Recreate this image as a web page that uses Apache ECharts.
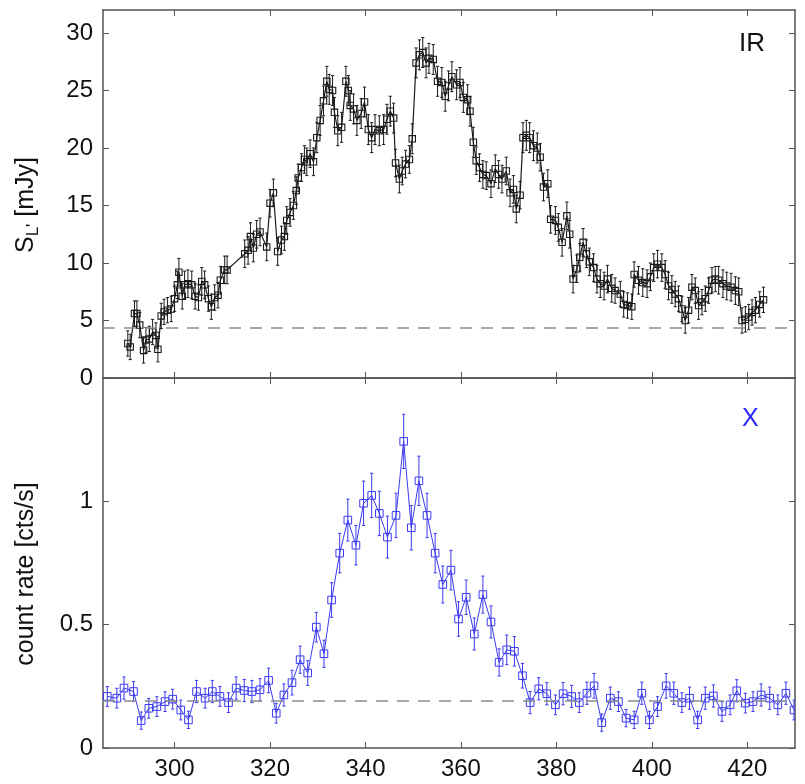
<!DOCTYPE html>
<html>
<head>
<meta charset="utf-8">
<script src="https://cdn.jsdelivr.net/npm/echarts@6/dist/echarts.min.js"></script>
<style>
html,body{margin:0;padding:0;background:#fff;}
#chart{width:805px;height:784px;}
</style>
</head>
<body>
<div id="chart"></div>
<script>
// ---------- DATA ----------
// IR light curve (top panel): time, flux [mJy], error
const irX = [290.2,290.7,291.6,292.1,292.7,293.5,294.0,294.7,295.4,296.1,296.5,297.2,297.8,298.5,299.3,300.0,300.6,300.9,301.6,302.1,302.8,303.6,304.3,305.0,305.7,306.3,307.1,307.7,308.4,309.1,309.6,310.5,311.0,314.7,315.4,315.9,316.5,317.2,317.9,319.3,320.0,320.7,321.6,322.4,323.0,323.5,324.2,324.9,325.5,325.9,326.6,327.2,327.7,328.4,329.1,329.8,330.5,331.2,331.9,332.4,333.1,333.5,334.2,335.0,335.9,336.4,336.8,337.5,338.2,339.1,339.8,340.6,341.3,342.0,342.9,343.8,344.5,345.2,345.9,346.3,347.1,347.7,348.4,349.2,349.8,350.6,351.3,352.0,352.7,353.3,354.2,355.1,356.0,356.7,357.4,358.1,359.1,359.8,360.5,361.4,361.9,362.6,363.2,363.9,364.6,365.3,366.3,367.2,367.9,368.6,369.5,370.3,371.0,371.6,372.4,373.0,373.7,374.4,375.2,376.0,376.6,377.3,378.2,378.8,379.8,380.4,381.2,382.2,382.8,383.5,384.3,384.9,385.6,386.3,386.9,387.8,388.5,389.2,390.0,390.7,391.6,392.3,393.4,394.1,394.9,395.8,396.3,397.2,398.1,399.0,399.7,400.4,401.2,402.1,402.8,403.5,404.2,404.9,405.6,406.3,407.0,407.7,408.4,409.1,409.8,410.5,411.2,411.9,412.6,413.3,414.0,414.9,415.7,416.6,417.5,418.2,418.9,419.6,420.3,421.0,421.7,422.6,423.4];
const irY = [3.0,2.7,5.6,5.6,4.6,2.4,3.3,3.4,4.0,3.7,2.5,5.4,5.75,5.9,6.0,6.9,8.1,9.2,7.1,8.1,8.2,8.1,7.1,7.0,8.4,8.1,6.9,6.2,7.0,7.2,8.5,9.4,9.4,10.8,11.1,12.3,11.3,12.5,12.7,11.4,15.2,16.1,11.0,12.0,12.3,13.7,14.4,15.0,16.3,17.4,18.3,19.0,18.8,19.5,18.8,20.9,22.4,24.1,25.8,25.1,25.0,23.1,21.5,21.8,25.8,25.0,23.7,23.4,22.4,23.0,24.0,21.6,20.9,21.6,21.5,21.6,22.5,23.2,22.6,18.7,17.3,18.0,18.6,19.0,20.8,27.4,28.1,28.3,27.4,27.8,27.7,25.8,25.7,24.5,25.4,26.2,25.5,25.7,24.4,24.2,23.2,20.5,18.9,18.3,17.7,17.6,16.9,18.2,17.7,17.3,18.0,16.1,16.4,14.7,15.9,20.9,21.1,20.9,20.2,20.0,19.2,16.6,16.9,13.8,13.7,13.1,11.8,14.1,12.5,8.6,9.5,10.5,11.8,10.8,10.1,9.6,8.6,8.2,8.0,8.6,7.8,7.6,7.3,6.4,6.3,6.2,9.0,8.5,8.3,8.2,8.8,9.6,9.9,9.6,9.0,8.0,7.7,7.3,6.9,6.0,5.0,5.9,7.9,7.6,6.3,6.6,6.9,7.6,8.5,8.6,8.5,8.2,8.0,7.9,7.6,7.5,5.0,5.1,5.3,5.7,5.9,6.4,6.8];
const irErr = [1.1,1.1,1.1,1.1,1.1,1.1,1.1,1.1,1.1,1.1,1.1,1.1,1.1,1.1,1.1,1.1,1.2,1.2,1.1,1.2,1.2,1.2,1.1,1.1,1.2,1.2,1.1,1.1,1.1,1.1,1.2,1.2,1.2,1.2,1.2,1.2,1.2,1.2,1.2,1.2,1.2,1.2,1.2,1.2,1.2,1.2,1.2,1.2,1.2,1.2,1.2,1.2,1.2,1.2,1.2,1.3,1.3,1.3,1.3,1.3,1.3,1.3,1.3,1.3,1.3,1.3,1.3,1.3,1.3,1.3,1.3,1.3,1.3,1.3,1.3,1.3,1.3,1.3,1.3,1.2,1.2,1.2,1.2,1.2,1.3,1.3,1.3,1.3,1.3,1.3,1.3,1.3,1.3,1.3,1.3,1.3,1.3,1.3,1.3,1.3,1.3,1.3,1.2,1.2,1.2,1.2,1.2,1.2,1.2,1.2,1.2,1.2,1.2,1.2,1.2,1.3,1.3,1.3,1.3,1.3,1.2,1.2,1.2,1.2,1.2,1.2,1.2,1.2,1.2,1.2,1.2,1.2,1.2,1.2,1.2,1.2,1.2,1.2,1.2,1.2,1.2,1.1,1.1,1.1,1.1,1.1,1.1,1.2,1.2,1.2,1.2,1.2,1.2,1.2,1.2,1.2,1.2,1.1,1.1,1.1,1.1,1.1,1.1,1.1,1.2,1.1,1.1,1.1,1.1,1.1,1.2,1.2,1.2,1.2,1.2,1.2,1.1,1.1,1.1,1.1,1.1,1.1,1.1,1.1];
// X-ray light curve (bottom panel): time, count rate [cts/s], error
const xrX = [285.9,287.9,289.4,291.4,293.0,294.6,296.3,298.0,299.6,301.3,302.9,304.6,306.4,307.9,309.5,311.3,312.9,314.6,316.2,317.9,319.7,321.3,322.9,324.6,326.3,327.9,329.7,331.3,332.9,334.6,336.3,338.0,339.6,341.3,342.9,344.6,346.4,348.0,349.6,351.2,352.9,354.6,356.2,357.9,359.5,361.1,362.8,364.6,366.3,368.0,369.6,371.2,372.9,374.5,376.3,378.0,379.8,381.4,383.2,384.8,386.4,387.9,389.5,391.3,393.0,394.6,396.3,397.9,399.5,401.2,403.0,404.6,406.3,407.9,409.6,411.2,412.9,414.7,416.4,417.8,419.6,421.2,422.9,424.7,426.4,428.1,429.8];
const xrY = [0.209,0.202,0.243,0.229,0.111,0.161,0.168,0.188,0.198,0.154,0.114,0.229,0.202,0.229,0.209,0.184,0.243,0.233,0.229,0.236,0.274,0.141,0.215,0.265,0.358,0.304,0.49,0.382,0.60,0.79,0.924,0.822,0.992,1.024,0.951,0.855,0.943,1.243,0.893,1.083,0.943,0.79,0.663,0.721,0.523,0.611,0.462,0.622,0.511,0.347,0.398,0.392,0.293,0.184,0.240,0.220,0.175,0.220,0.209,0.184,0.222,0.252,0.103,0.202,0.188,0.121,0.114,0.222,0.114,0.168,0.252,0.222,0.184,0.202,0.114,0.202,0.211,0.148,0.175,0.232,0.182,0.188,0.215,0.202,0.175,0.222,0.154];
const xrErr = [0.04,0.04,0.045,0.04,0.035,0.04,0.04,0.04,0.04,0.04,0.035,0.045,0.04,0.045,0.04,0.04,0.045,0.045,0.045,0.045,0.05,0.04,0.045,0.05,0.055,0.05,0.06,0.055,0.07,0.08,0.085,0.08,0.09,0.09,0.09,0.085,0.09,0.11,0.09,0.1,0.09,0.08,0.075,0.08,0.07,0.07,0.065,0.075,0.065,0.055,0.06,0.06,0.05,0.045,0.045,0.045,0.04,0.045,0.045,0.04,0.045,0.05,0.035,0.045,0.04,0.035,0.035,0.045,0.035,0.04,0.05,0.045,0.04,0.045,0.035,0.045,0.045,0.04,0.04,0.045,0.04,0.04,0.045,0.045,0.04,0.045,0.04];
// Quiescent levels (dashed lines)
const irBaseline = 4.35;
const xrBaseline = 0.19;
// Axis ranges and tick labels
const timeRange = [285, 430];
const timeTicks = [300, 320, 340, 360, 380, 400, 420];
const irRange = [0, 32];
const irTicks = [0, 5, 10, 15, 20, 25, 30];
const xrRange = [0, 1.5];
const xrTicks = [0, 0.5, 1];
const irLabel = 'IR';
const xrLabel = 'X';

// ---------- CHART ----------
const FONT = '"Liberation Sans", Arial, Helvetica, sans-serif';
const FRAME = '#555';
const IR_COLOR = '#1a1a1a';
const XR_COLOR = '#3a3af0';

const chart = echarts.init(document.getElementById('chart'), null, {renderer: 'canvas'});

function zip3(a, b, c) { return a.map((v, i) => [v, b[i], c[i]]); }
const irData = zip3(irX, irY, irErr);
const xrData = zip3(xrX, xrY, xrErr);

function errRenderer(color, half, lw) {
  return function (params, api) {
    const x = api.value(0), y = api.value(1), e = api.value(2);
    const p = api.coord([x, y]);
    const t = api.coord([x, y + e]);
    const b = api.coord([x, y - e]);
    const cap = 1.6;
    const st = {stroke: color, lineWidth: 1, fill: null};
    return {
      type: 'group',
      children: [
        {type: 'line', shape: {x1: p[0], y1: t[1], x2: p[0], y2: b[1]}, style: st},
        {type: 'line', shape: {x1: p[0] - cap, y1: t[1], x2: p[0] + cap, y2: t[1]}, style: st},
        {type: 'line', shape: {x1: p[0] - cap, y1: b[1], x2: p[0] + cap, y2: b[1]}, style: st},
        {type: 'rect', shape: {x: p[0] - half, y: p[1] - half, width: half * 2, height: half * 2}, style: {stroke: color, lineWidth: lw, fill: null}}
      ]
    };
  };
}

function xAxisDef(gridIndex, position, showLabels) {
  return {
    type: 'value', gridIndex, position,
    min: timeRange[0], max: timeRange[1],
    axisLine: {show: true, onZero: false, lineStyle: {color: FRAME, width: 1.5}},
    axisTick: {show: true, inside: true, length: 6, lineStyle: {color: FRAME, width: 1}, customValues: timeTicks},
    axisLabel: {show: showLabels, customValues: timeTicks, color: '#111', fontFamily: FONT, fontSize: 24, margin: 9},
    splitLine: {show: false}
  };
}
function yAxisDef(gridIndex, position, range, ticks, showLabels) {
  return {
    type: 'value', gridIndex, position,
    min: range[0], max: range[1],
    axisLine: {show: true, onZero: false, lineStyle: {color: FRAME, width: 1.5}},
    axisTick: {show: true, inside: true, length: 6, lineStyle: {color: FRAME, width: 1}, customValues: ticks},
    axisLabel: {show: showLabels, customValues: ticks, color: '#111', fontFamily: FONT, fontSize: 24, margin: 10},
    splitLine: {show: false}
  };
}

const option = {
  backgroundColor: '#fff',
  animation: false,
  grid: [
    {left: 103, right: 10, top: 10, height: 368},
    {left: 103, right: 10, top: 378, height: 370}
  ],
  xAxis: [
    xAxisDef(0, 'bottom', false),
    xAxisDef(0, 'top', false),
    xAxisDef(1, 'bottom', true),
    xAxisDef(1, 'top', false)
  ],
  yAxis: [
    yAxisDef(0, 'left', irRange, irTicks, true),
    yAxisDef(0, 'right', irRange, irTicks, false),
    yAxisDef(1, 'left', xrRange, xrTicks, true),
    yAxisDef(1, 'right', xrRange, xrTicks, false)
  ],
  series: [
    {
      type: 'line', xAxisIndex: 0, yAxisIndex: 0,
      data: irData.map(d => [d[0], d[1]]),
      showSymbol: false, symbol: 'none',
      lineStyle: {color: IR_COLOR, width: 1.2},
      z: 3,
      markLine: {
        silent: true, symbol: 'none', label: {show: false},
        lineStyle: {color: '#8c8c8c', type: [12, 9], width: 1.5},
        data: [{yAxis: irBaseline}]
      }
    },
    {
      type: 'custom', xAxisIndex: 0, yAxisIndex: 0,
      data: irData, renderItem: errRenderer(IR_COLOR, 3.2, 1.1), clip: true, z: 4
    },
    {
      type: 'line', xAxisIndex: 2, yAxisIndex: 2,
      data: xrData.map(d => [d[0], d[1]]),
      showSymbol: false, symbol: 'none',
      lineStyle: {color: XR_COLOR, width: 1},
      z: 3,
      markLine: {
        silent: true, symbol: 'none', label: {show: false},
        lineStyle: {color: '#8c8c8c', type: [12, 9], width: 1.5},
        data: [{yAxis: xrBaseline}]
      }
    },
    {
      type: 'custom', xAxisIndex: 2, yAxisIndex: 2,
      data: xrData, renderItem: errRenderer(XR_COLOR, 3.8, 1), clip: true, z: 4
    }
  ],
  graphic: [
    {type: 'text', left: 739, top: 31, style: {text: irLabel, fill: '#111', font: '26px ' + FONT}},
    {type: 'text', left: 742, top: 407, style: {text: xrLabel, fill: '#2a2af5', font: '25px ' + FONT}},
    {
      type: 'text', x: 26, y: 205, rotation: Math.PI / 2,
      style: {
        text: '{a|S}{b|L\'}{a| [mJy]}',
        align: 'center', verticalAlign: 'middle',
        rich: {
          a: {fontSize: 25, fontFamily: FONT, fill: '#111'},
          b: {fontSize: 17, fontFamily: FONT, fill: '#111', verticalAlign: 'top', padding: [15, 0, 0, 0]}
        }
      }
    },
    {
      type: 'text', x: 26, y: 574, rotation: Math.PI / 2,
      style: {text: 'count rate [cts/s]', align: 'center', verticalAlign: 'middle', fill: '#111', font: '25px ' + FONT}
    }
  ]
};
chart.setOption(option);
</script>
</body>
</html>
